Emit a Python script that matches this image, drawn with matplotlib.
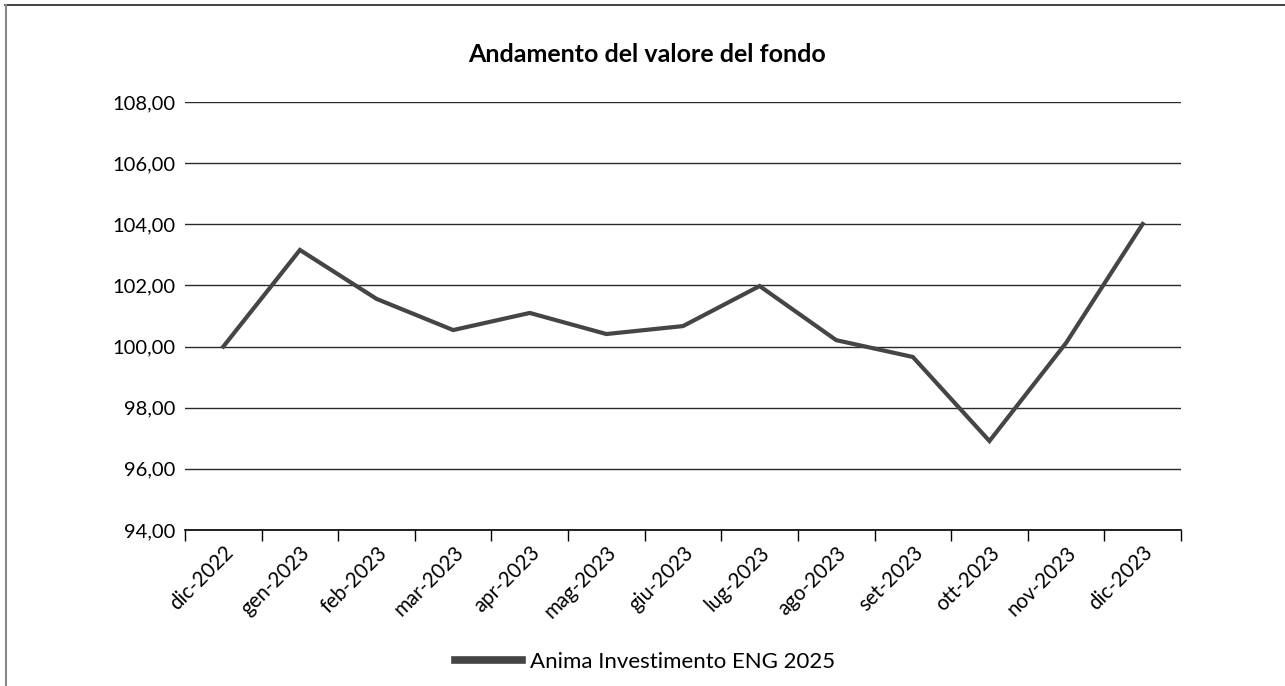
import matplotlib
matplotlib.use("Agg")
import matplotlib.pyplot as plt
from matplotlib.lines import Line2D
import numpy as np

plt.rcParams['font.family'] = ['Lato', 'DejaVu Sans']

categories = ["dic-2022", "gen-2023", "feb-2023", "mar-2023", "apr-2023", "mag-2023",
              "giu-2023", "lug-2023", "ago-2023", "set-2023", "ott-2023", "nov-2023", "dic-2023"]
values = [100.00, 103.16, 101.56, 100.54, 101.10, 100.41, 100.67, 101.98, 100.21, 99.66, 96.91, 100.12, 104.01]
series_name = "Anima Investimento ENG 2025"
title = "Andamento del valore del fondo"
y_ticks = [94, 96, 98, 100, 102, 104, 106, 108]

fig = plt.figure(figsize=(12.85, 6.86), dpi=100)
ax = fig.add_axes([185/1285, 1-530/686, (1181-185)/1285, (530-102)/686])

x = np.arange(len(categories))
line, = ax.plot(x, values, color="#454545", lw=3, solid_joinstyle='miter', label=series_name, zorder=3)

ax.set_xlim(-0.5, len(categories) - 0.5)
ax.set_ylim(94, 108)
ax.set_yticks(y_ticks)
ax.set_yticklabels([f"{v:.2f}".replace(".", ",") for v in y_ticks], fontsize=14.5)
ax.tick_params(axis='y', length=0, pad=7)
ax.yaxis.grid(True, color="#2a2a2a", lw=1)
ax.set_axisbelow(True)

ax.set_xticks(x)
ax.set_xticklabels(categories, rotation=45, ha='right', rotation_mode='anchor', fontsize=14.8)
ax.tick_params(axis='x', which='major', length=0, pad=9)
ax.set_xticks(np.arange(-0.5, len(categories)), minor=True)
ax.tick_params(axis='x', which='minor', length=8, width=1, color="black")

for s in ['top', 'right', 'left']:
    ax.spines[s].set_visible(False)
ax.spines['bottom'].set_color("black")
ax.spines['bottom'].set_linewidth(1.2)

fig.text(647/1285, 1-55/686, title, ha='center', va='center', fontsize=18, fontweight='bold')

leg = fig.legend(handles=[line], loc='center', bbox_to_anchor=(645/1285, 1-662/686),
                 frameon=False, fontsize=16, handlelength=3.0, handletextpad=0.35)
for h in leg.get_lines():
    h.set_linewidth(5.5)

# outer frame: dark top edge and gray left edge
fig.add_artist(Line2D([5/1285, 1], [1-5/686, 1-5/686], transform=fig.transFigure,
                      color="#222222", lw=1.2))
fig.add_artist(Line2D([5.5/1285, 5.5/1285], [0, 1-5/686], transform=fig.transFigure,
                      color="#888888", lw=1.5))

fig.savefig("out.png", dpi=100)
